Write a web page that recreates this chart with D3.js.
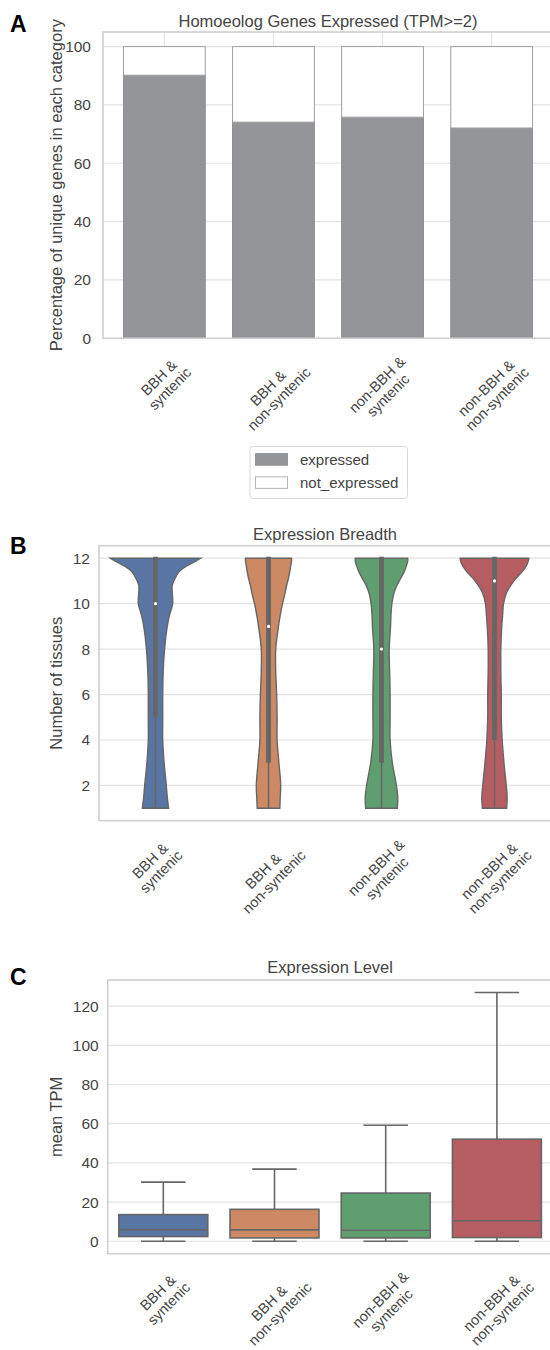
<!DOCTYPE html>
<html>
<head>
<meta charset="utf-8">
<script src="https://cdn.jsdelivr.net/npm/d3@7"></script>
<style>
  body { margin: 0; background: #fff; }
  text { font-family: "Liberation Sans", Arial, sans-serif; }
</style>
</head>
<body>
<div id="chart"></div>
<script>
const width = 550;
const height = 1350;

// categories shared by all three panels
const categories = ["BBH &\nsyntenic", "BBH &\nnon-syntenic", "non-BBH &\nsyntenic", "non-BBH &\nnon-syntenic"];
const palette = ["#5875a3", "#cc8963", "#5f9e6e", "#b55d60"];

// panel A: % expressed (rest is not expressed)
const expressedPct = [90.2, 74.1, 75.8, 72.1];
const percentTicks = [0, 20, 40, 60, 80, 100];

// panel B: violin profiles (relative density at each tissue count)
const violinLevels = [1, 1.5, 2, 3, 4, 5, 6, 7, 8, 9, 9.5, 10, 10.5, 10.8, 11.1, 11.4, 11.65, 11.88, 12];
const violinDensity = [
  [0.29, 0.26, 0.24, 0.19, 0.16, 0.16, 0.16, 0.17, 0.20, 0.26, 0.31, 0.38, 0.37, 0.37, 0.43, 0.52, 0.68, 0.90, 1.00],
  [0.25, 0.26, 0.27, 0.23, 0.19, 0.19, 0.18, 0.16, 0.16, 0.22, 0.26, 0.31, 0.37, 0.40, 0.44, 0.47, 0.49, 0.51, 0.51],
  [0.35, 0.36, 0.33, 0.24, 0.19, 0.19, 0.19, 0.18, 0.17, 0.20, 0.21, 0.23, 0.28, 0.34, 0.42, 0.50, 0.55, 0.58, 0.58],
  [0.27, 0.28, 0.26, 0.21, 0.17, 0.15, 0.15, 0.14, 0.14, 0.16, 0.18, 0.20, 0.27, 0.36, 0.47, 0.61, 0.70, 0.75, 0.76]
];
const breadthMin = [1, 1, 1, 1];
const breadthQ1 = [5, 3, 3, 4];
const breadthMedian = [10, 9, 8, 11];
const breadthQ3 = [12, 12, 12, 12];
const breadthMax = [12, 12, 12, 12];
const breadthTicks = [2, 4, 6, 8, 10, 12];

// panel C: box plot of mean TPM (outliers hidden)
const tpmLow = [0, 0, 0, 0];
const tpmQ1 = [2.4, 1.7, 1.7, 1.9];
const tpmMedian = [5.9, 5.8, 5.6, 10.5];
const tpmQ3 = [13.6, 16.3, 24.6, 52.1];
const tpmHigh = [30.2, 36.8, 59.2, 127];
const tpmTicks = [0, 20, 40, 60, 80, 100, 120];

const textColor = "#444";
const gridColor = "#e3e3e3";
const frameColor = "#cfcfcf";
const lineGray = "#666";

const svg = d3.select("#chart").append("svg")
    .attr("width", width)
    .attr("height", height)
    .style("display", "block");

// --- helpers ---
function frame(x0, x1, y0, y1) {
    svg.append("rect")
        .attr("x", x0).attr("y", y0)
        .attr("width", x1 - x0).attr("height", y1 - y0)
        .attr("fill", "none")
        .attr("stroke", frameColor)
        .attr("stroke-width", 1.6);
}

function hGrid(y, ticks, x0, x1) {
    svg.append("g").selectAll("line")
        .data(ticks)
        .enter().append("line")
        .attr("x1", x0).attr("x2", x1)
        .attr("y1", d => y(d)).attr("y2", d => y(d))
        .attr("stroke", gridColor)
        .attr("stroke-width", 1.2);
}

function yAxis(y, ticks, x0, pad) {
    const g = svg.append("g")
        .attr("transform", `translate(${x0},0)`)
        .call(d3.axisLeft(y).tickValues(ticks).tickSize(0).tickPadding(pad));
    g.select(".domain").remove();
    g.selectAll("text")
        .attr("fill", textColor)
        .style("font-size", "15.5px")
        .style("font-family", "'Liberation Sans', Arial, sans-serif");
}

function xLabels(x, topY) {
    const fs = 14.5, lineH = 15.5;
    categories.forEach((c, i) => {
        const lines = c.split("\n");
        const t = svg.append("text")
            .attr("text-anchor", "middle")
            .attr("fill", textColor)
            .style("font-size", fs + "px");
        lines.forEach((l, j) => {
            t.append("tspan")
                .attr("x", 0)
                .attr("y", (j - (lines.length - 1) / 2) * lineH + 0.35 * fs)
                .text(l);
        });
        const w = d3.max(t.selectAll("tspan").nodes(), n => n.getComputedTextLength());
        const h = lines.length * lineH * 0.85;
        const half = (w + h) / (2 * Math.SQRT2);
        t.attr("transform", `translate(${x(i)},${topY + half}) rotate(-45)`);
    });
}

function title(text, cx, y) {
    svg.append("text")
        .attr("x", cx).attr("y", y)
        .attr("text-anchor", "middle")
        .attr("fill", textColor)
        .style("font-size", "16.5px")
        .text(text);
}

function yLabel(text, x, cy) {
    svg.append("text")
        .attr("transform", `translate(${x},${cy}) rotate(-90)`)
        .attr("text-anchor", "middle")
        .attr("fill", textColor)
        .style("font-size", "16.5px")
        .text(text);
}

function panelLetter(text, y) {
    svg.append("text")
        .attr("x", 10).attr("y", y)
        .attr("fill", "#000")
        .style("font-size", "23px")
        .style("font-weight", "bold")
        .style("font-family", "'Liberation Sans', Arial, sans-serif")
        .text(text);
}

// ===== Panel A =====
const xA = d3.scaleLinear().domain([-0.5625, 3.5625]).range([103, 553]);
const yA = d3.scaleLinear().domain([0, 105]).range([338.3, 32]);
const barW = 0.75;

hGrid(yA, percentTicks, 103, 553);
svg.append("g").selectAll("line")
    .data(categories)
    .enter().append("line")
    .attr("x1", (d, i) => xA(i)).attr("x2", (d, i) => xA(i))
    .attr("y1", yA(105)).attr("y2", yA(0))
    .attr("stroke", gridColor)
    .attr("stroke-width", 1.2);

svg.append("g").selectAll("rect")
    .data(expressedPct)
    .enter().append("rect")
    .attr("x", (d, i) => xA(i - barW / 2))
    .attr("width", xA(barW) - xA(0))
    .attr("y", d => yA(d))
    .attr("height", d => yA(0) - yA(d))
    .attr("fill", "#939598")
    .attr("stroke", "#8e8f92")
    .attr("stroke-width", 1);

svg.append("g").selectAll("rect")
    .data(expressedPct)
    .enter().append("rect")
    .attr("x", (d, i) => xA(i - barW / 2))
    .attr("width", xA(barW) - xA(0))
    .attr("y", yA(100))
    .attr("height", d => yA(d) - yA(100))
    .attr("fill", "#fff")
    .attr("stroke", "#a0a0a0")
    .attr("stroke-width", 1);

frame(103, 553, 32, 338.3);
yAxis(yA, percentTicks, 103, 12);
xLabels(xA, 355);
title("Homoeolog Genes Expressed (TPM>=2)", (103 + 553) / 2, 27);
yLabel("Percentage of unique genes in each category", 62, (32 + 338.3) / 2);
panelLetter("A", 31.5);

// legend
const legend = svg.append("g");
legend.append("rect")
    .attr("x", 250).attr("y", 446.5)
    .attr("width", 157.5).attr("height", 52)
    .attr("rx", 3)
    .attr("fill", "#fff")
    .attr("stroke", "#d8d8d8")
    .attr("stroke-width", 1);
const legendItems = [["expressed", "#939598", "#939598"], ["not_expressed", "#fff", "#b5b5b5"]];
legendItems.forEach((it, i) => {
    legend.append("rect")
        .attr("x", 255.5).attr("y", 453.6 + i * 23.2)
        .attr("width", 32).attr("height", 11.6)
        .attr("fill", it[1])
        .attr("stroke", it[2])
        .attr("stroke-width", 1);
    legend.append("text")
        .attr("x", 300).attr("y", 465 + i * 23.2)
        .attr("fill", textColor)
        .style("font-size", "15px")
        .text(it[0]);
});

// ===== Panel B =====
const xB = d3.scaleLinear().domain([-0.5, 3.5]).range([99, 551]);
const yB = d3.scaleLinear().domain([0.45, 12.55]).range([820.7, 545.7]);
const wB = d3.scaleLinear().domain([0, 1]).range([0, xB(0.4) - xB(0)]);

hGrid(yB, breadthTicks, 99, 551);

violinDensity.forEach((dens, i) => {
    const pts = violinLevels.map((v, j) => ({ v: v, d: dens[j] }));
    const area = d3.area()
        .y(d => yB(d.v))
        .x0(d => xB(i) - wB(d.d))
        .x1(d => xB(i) + wB(d.d))
        .curve(d3.curveCatmullRom);
    svg.append("path")
        .datum(pts)
        .attr("d", area)
        .attr("fill", palette[i])
        .attr("stroke", lineGray)
        .attr("stroke-width", 1.4);

    svg.append("line")
        .attr("x1", xB(i)).attr("x2", xB(i))
        .attr("y1", yB(breadthMin[i])).attr("y2", yB(breadthMax[i]))
        .attr("stroke", lineGray)
        .attr("stroke-width", 1.5);
    svg.append("line")
        .attr("x1", xB(i)).attr("x2", xB(i))
        .attr("y1", yB(breadthQ1[i])).attr("y2", yB(breadthQ3[i]) - 1.5)
        .attr("stroke", lineGray)
        .attr("stroke-width", 4.8);
    svg.append("circle")
        .attr("cx", xB(i)).attr("cy", yB(breadthMedian[i]))
        .attr("r", 1.6)
        .attr("fill", "#fff");
});

frame(99, 551, 545.7, 820.7);
yAxis(yB, breadthTicks, 99, 9);
xLabels(xB, 838);
title("Expression Breadth", (99 + 551) / 2, 540);
yLabel("Number of tissues", 62, (545.7 + 820.7) / 2);
panelLetter("B", 553.5);

// ===== Panel C =====
const xC = d3.scaleLinear().domain([-0.5, 3.5]).range([107.7, 552.5]);
const yC = d3.scaleLinear().domain([-6.35, 133.35]).range([1253.7, 980]);
const boxW = 0.8;

hGrid(yC, tpmTicks, 107.7, 552.5);

tpmQ1.forEach((q1, i) => {
    const g = svg.append("g")
        .attr("stroke", lineGray)
        .attr("stroke-width", 1.6);
    // whiskers
    g.append("line")
        .attr("x1", xC(i)).attr("x2", xC(i))
        .attr("y1", yC(tpmQ3[i])).attr("y2", yC(tpmHigh[i]));
    g.append("line")
        .attr("x1", xC(i)).attr("x2", xC(i))
        .attr("y1", yC(q1)).attr("y2", yC(tpmLow[i]));
    [tpmHigh[i], tpmLow[i]].forEach(v => {
        g.append("line")
            .attr("x1", xC(i - boxW / 4)).attr("x2", xC(i + boxW / 4))
            .attr("y1", yC(v)).attr("y2", yC(v));
    });
    g.append("rect")
        .attr("x", xC(i - boxW / 2))
        .attr("width", xC(boxW) - xC(0))
        .attr("y", yC(tpmQ3[i]))
        .attr("height", yC(q1) - yC(tpmQ3[i]))
        .attr("fill", palette[i]);
    g.append("line")
        .attr("x1", xC(i - boxW / 2)).attr("x2", xC(i + boxW / 2))
        .attr("y1", yC(tpmMedian[i])).attr("y2", yC(tpmMedian[i]));
});

frame(107.7, 552.5, 980, 1253.7);
yAxis(yC, tpmTicks, 107.7, 9);
xLabels(xC, 1270);
title("Expression Level", (107.7 + 552.5) / 2, 973);
yLabel("mean TPM", 62, (980 + 1253.7) / 2);
panelLetter("C", 985);
</script>
</body>
</html>
